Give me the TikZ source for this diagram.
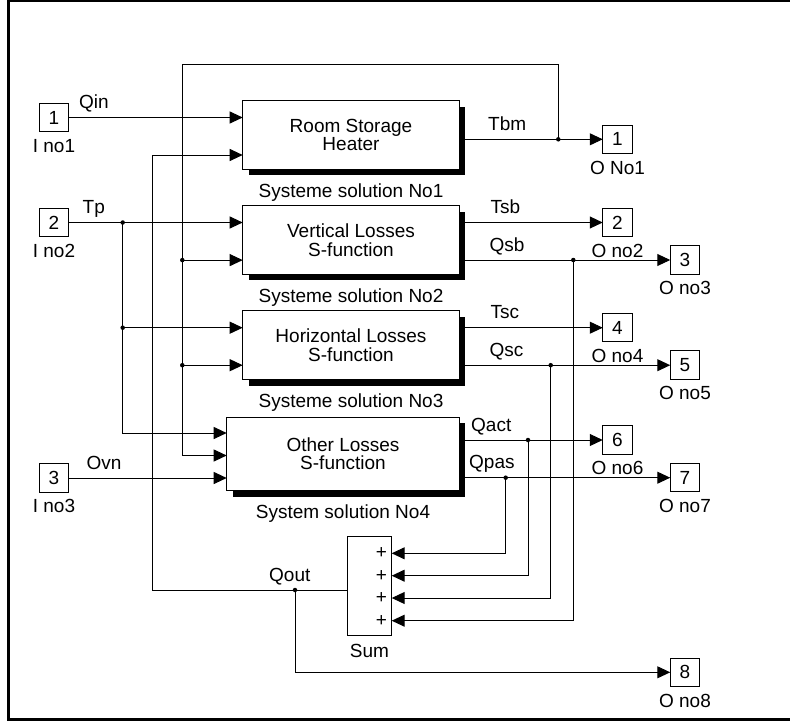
\documentclass[tikz,border=0pt]{standalone}
\usepackage{fontspec}
\setmainfont{Liberation Sans}
\usepackage{tikz}
\usetikzlibrary{arrows.meta,positioning,calc,shadows}

\begin{document}
\begin{tikzpicture}[
        x=1pt, y=-1pt,
        font=\fontsize{19}{18.3}\selectfont,
        node distance=36.5pt,
        arrow/.style={-{Triangle[length=13pt, width=12pt]}, line width=1pt},
        port/.style={rectangle, draw, line width=1pt, minimum width=29.5pt, minimum height=28.5pt, inner sep=0pt, outer sep=0pt},
        block/.style={rectangle, draw, fill=white, line width=1pt, align=center, inner sep=0pt, outer sep=0pt, minimum width=216.6pt, minimum height=68.6pt, drop shadow={shadow xshift=6pt, shadow yshift=-6pt, fill=black, opacity=1}},
        summer/.style={rectangle, draw, line width=1pt, minimum width=44.4pt, minimum height=99pt, inner sep=0pt, outer sep=0pt},
        caption/.style={inner sep=0pt},
        sig/.style={inner sep=0pt, anchor=base west},
        plus/.style={inner sep=0pt, anchor=east},
        dot/.style={circle, fill, inner sep=0pt, minimum size=4.5pt}
    ]

    \useasboundingbox (0,0) rectangle (790,723);

    % Window frame
    \draw[line width=2.5pt] (8.7,0) -- (8.7,721);
    \draw[line width=1.5pt] (7.5,0.75) -- (790,0.75);
    \draw[line width=3pt] (7.5,719.5) -- (790,719.5);

    % Input ports
    \node[port] (i1) at (54,117.5) {1};
    \node[caption, below=7pt of i1] (ci1) {I no1};
    \node[port] (i2) at (54,222.5) {2};
    \node[caption, below=7pt of i2] (ci2) {I no2};
    \node[port] (i3) at (54,478) {3};
    \node[caption, below=7pt of i3] (ci3) {I no3};

    % Subsystems
    \node[block] (sys1) at (351,135) {Room Storage\\Heater};
    \node[caption, below=14pt of sys1] (csys1) {Systeme solution No1};
    \node[block, below=of sys1] (sys2) {Vertical Losses\\S-function};
    \node[caption, below=14pt of sys2] (csys2) {Systeme solution No2};
    \node[block, below=of sys2] (sys3) {Horizontal Losses\\S-function};
    \node[caption, below=14pt of sys3] (csys3) {Systeme solution No3};
    \node[block, minimum width=232.6pt, minimum height=73.4pt, below=37.8pt of sys3.south east, anchor=north east] (sys4) {Other Losses\\S-function};
    \node[caption, below=14pt of sys4] (csys4) {System solution No4};

    % Block inputs
    \coordinate (s1in2) at ($(sys1.west)+(0,20)$);
    \coordinate (s2in2) at ($(sys2.west)+(0,20)$);
    \coordinate (s3in1) at ($(sys3.west)+(0,-17.5)$);
    \coordinate (s3in2) at ($(sys3.west)+(0,20)$);
    \coordinate (s4in1) at ($(sys4.west)+(0,-21)$);
    \coordinate (s4in2) at ($(sys4.west)+(0,1.5)$);

    % Output ports
    \node[port] (o1) at (617.5,139.3) {1};
    \node[caption, below=7pt of o1] (co1) {O No1};
    \node[port] (o2) at (617.5,222.5) {2};
    \node[caption, below=7pt of o2] (co2) {O no2};
    \node[port] (o3) at (685,260) {3};
    \node[caption, below=7pt of o3] (co3) {O no3};
    \node[port] (o4) at (617.5,0 |- s3in1) {4};
    \node[caption, below=7pt of o4] (co4) {O no4};
    \node[port] (o5) at (685,0 |- s3in2) {5};
    \node[caption, below=7pt of o5] (co5) {O no5};
    \node[port] (o6) at (617.5,440) {6};
    \node[caption, below=7pt of o6] (co6) {O no6};
    \node[port] (o7) at (685,477.7) {7};
    \node[caption, below=7pt of o7] (co7) {O no7};
    \node[port] (o8) at (685,672.3) {8};
    \node[caption, below=7pt of o8] (co8) {O no8};

    % Sum block
    \node[summer] (sum) at (369.5,585.5) {};
    \node[caption, below=9pt of sum] (csum) {Sum};
    \coordinate (sumin1) at ($(sum.east)+(0,-32.2)$);
    \coordinate (sumin2) at ($(sum.east)+(0,-9.8)$);
    \coordinate (sumin3) at ($(sum.east)+(0,12.5)$);
    \coordinate (sumin4) at ($(sum.east)+(0,35.2)$);
    \coordinate (sumout) at ($(sum.west)+(0,4.5)$);
    \node[plus] (p1) at ([xshift=-4.5pt]sumin1) {+};
    \node[plus] (p2) at ([xshift=-4.5pt]sumin2) {+};
    \node[plus] (p3) at ([xshift=-4.5pt]sumin3) {+};
    \node[plus] (p4) at ([xshift=-4.5pt]sumin4) {+};

    % Branch points
    \coordinate (jtp1) at (122.7,222.5);
    \coordinate (jtp2) at (jtp1 |- s3in1);
    \coordinate (jtbm) at (558.3,139.3);
    \coordinate (tbmtop) at (558.3,64.3);
    \coordinate (jfb2) at (182.3,0 |- s2in2);
    \coordinate (jfb3) at (182.3,0 |- s3in2);
    \coordinate (jqsb) at (573.3,0 |- o3);
    \coordinate (jqsc) at (550.7,0 |- o5);
    \coordinate (jqact) at (528,0 |- o6);
    \coordinate (jqpas) at (505.7,0 |- o7);
    \coordinate (qcorner) at (152.3,0 |- sumout);
    \coordinate (jqout) at (295,0 |- sumout);

    % Inputs to subsystems
    \draw[arrow] (i1) -- (i1 -| sys1.west);
    \draw[arrow] (i2) -- (i2 -| sys2.west);
    \draw[arrow] (jtp1) |- (s4in1);
    \draw[arrow] (jtp2) -- (s3in1);
    \draw[arrow] (i3) -- (i3 -| sys4.west);

    % Tbm fed back
    \draw[arrow] (sys1.east |- o1) -- (o1);
    \draw[arrow] (jtbm) -- (tbmtop) -| (jfb2) |- (s4in2);
    \draw[arrow] (jfb2) -- (s2in2);
    \draw[arrow] (jfb3) -- (s3in2);

    % Outputs
    \draw[arrow] (sys2.east |- o2) -- (o2);
    \draw[arrow] (sys2.east |- o3) -- (o3);
    \draw[arrow] (sys3.east |- o4) -- (o4);
    \draw[arrow] (sys3.east |- o5) -- (o5);
    \draw[arrow] (sys4.east |- o6) -- (o6);
    \draw[arrow] (sys4.east |- o7) -- (o7);

    % Losses into the sum
    \draw[arrow] (jqsb) |- (sumin4);
    \draw[arrow] (jqsc) |- (sumin3);
    \draw[arrow] (jqact) |- (sumin2);
    \draw[arrow] (jqpas) |- (sumin1);

    % Qout
    \draw[arrow] (sumout) -- (qcorner) |- (s1in2);
    \draw[arrow] (jqout) |- (o8);

    % Junction dots
    \node[dot] (dtp1) at (jtp1) {};
    \node[dot] (dtp2) at (jtp2) {};
    \node[dot] (dtbm) at (jtbm) {};
    \node[dot] (dfb2) at (jfb2) {};
    \node[dot] (dfb3) at (jfb3) {};
    \node[dot] (dqsb) at (jqsb) {};
    \node[dot] (dqsc) at (jqsc) {};
    \node[dot] (dqact) at (jqact) {};
    \node[dot] (dqpas) at (jqpas) {};
    \node[dot] (dqout) at (jqout) {};

    % Signal names
    \node[sig] (lqin) at (79,108.5) {Qin};
    \node[sig] (ltp) at (82.5,213.5) {Tp};
    \node[sig] (lovn) at (86.5,469) {Ovn};
    \node[sig] (ltbm) at (488,130.3) {Tbm};
    \node[sig] (ltsb) at (490.5,213.5) {Tsb};
    \node[sig] (lqsb) at (489.5,251) {Qsb};
    \node[sig] (ltsc) at (490.5,318.7) {Tsc};
    \node[sig] (lqsc) at (489.5,356.2) {Qsc};
    \node[sig] (lqact) at (471,431) {Qact};
    \node[sig] (lqpas) at (469,468.7) {Qpas};
    \node[sig] (lqout) at (269,581) {Qout};

\end{tikzpicture}
\end{document}
